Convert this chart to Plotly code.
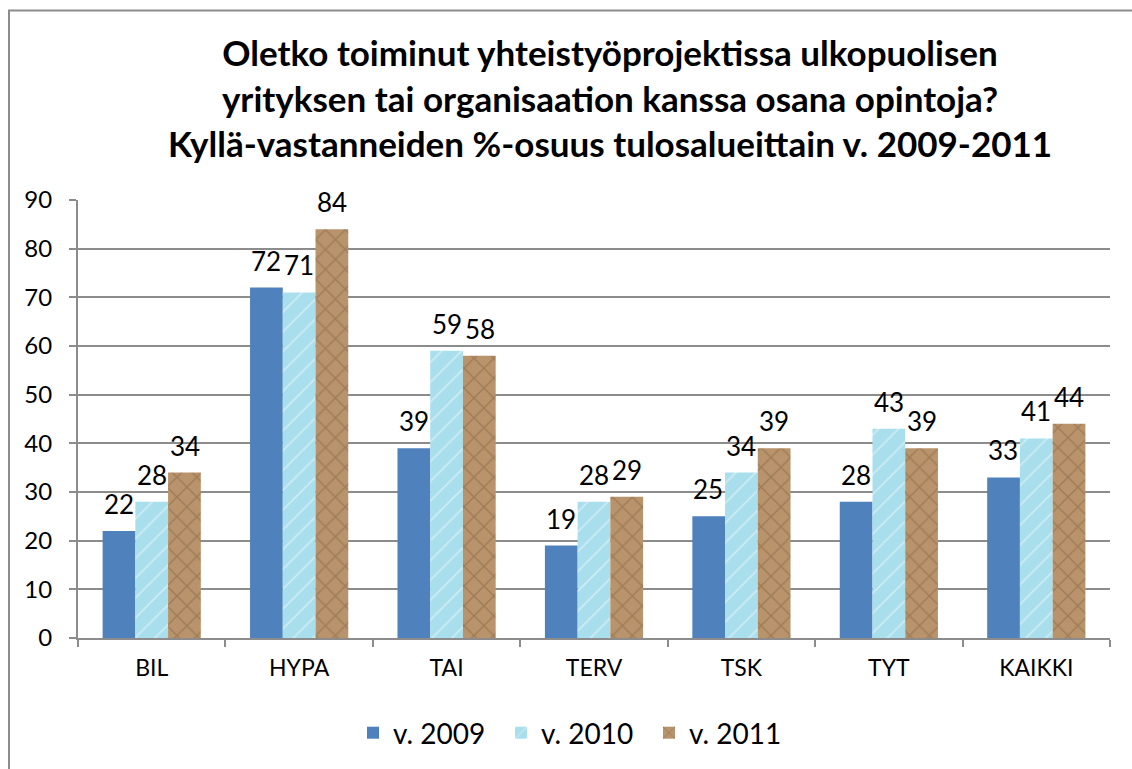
import plotly.graph_objects as go

categories = ["BIL", "HYPA", "TAI", "TERV", "TSK", "TYT", "KAIKKI"]
v2009 = [22, 72, 39, 19, 25, 28, 33]
v2010 = [28, 71, 59, 28, 34, 43, 41]
v2011 = [34, 84, 58, 29, 39, 39, 44]
series_names = ["v. 2009", "v. 2010", "v. 2011"]
y_ticks = [0, 10, 20, 30, 40, 50, 60, 70, 80, 90]

FONT = "Lato, 'Open Sans', sans-serif"

fig = go.Figure()
fig.add_trace(go.Bar(x=categories, y=v2009, name=series_names[0],
                     marker=dict(color="#4F81BD", line=dict(width=0))))
fig.add_trace(go.Bar(x=categories, y=v2010, name=series_names[1],
                     marker=dict(color="#A9DEEC", line=dict(width=0),
                                 pattern=dict(shape="/", fgcolor="#E4F6FA", fgopacity=0.6,
                                              size=14, solidity=0.12, fillmode="overlay"))))
fig.add_trace(go.Bar(x=categories, y=v2011, name=series_names[2],
                     marker=dict(color="#B8936B", line=dict(width=0),
                                 pattern=dict(shape="x", fgcolor="#7A5A3A", fgopacity=0.4,
                                              size=14, solidity=0.2, fillmode="overlay"))))

# data labels
offsets = [-33, 0, 33]
for si, vals in enumerate([v2009, v2010, v2011]):
    for c, v in zip(categories, vals):
        fig.add_annotation(x=c, y=v, xref="x", yref="y", text=str(v), showarrow=False,
                           xshift=offsets[si], yshift=9,
                           yanchor="bottom", font=dict(size=26, color="#000", family=FONT))

# outer chart border
fig.add_shape(type="rect", xref="paper", yref="paper",
              x0=(9 - 78) / 1032, x1=(1145 - 78) / 1032,
              y0=(639 - 790) / 439, y1=(639 - 10) / 439,
              line=dict(color="#8C8C8C", width=2), fillcolor="rgba(0,0,0,0)", layer="below")

fig.update_layout(
    width=1132, height=769,
    margin=dict(l=78, r=22, t=200, b=130),
    paper_bgcolor="white", plot_bgcolor="white",
    barmode="group", bargap=0.334, bargroupgap=0,
    font=dict(family=FONT, color="#000"),
    title=dict(text="<b>Oletko toiminut yhteistyöprojektissa ulkopuolisen<br>"
                    "yrityksen tai organisaation kanssa osana opintoja?<br>"
                    "Kyllä-vastanneiden %-osuus tulosalueittain v. 2009-2011</b>",
               x=610 / 1132, xanchor="center", y=1 - 66 / 769, yanchor="top",
               font=dict(size=35, family=FONT, color="#000")),
    showlegend=True,
    legend=dict(orientation="h", x=0.5 - 19 / 1032, xanchor="center", y=-(733 - 639) / 439,
                yanchor="middle", font=dict(size=28, family=FONT), itemwidth=30,
                entrywidth=103, entrywidthmode="pixels", traceorder="normal"),
)
fig.update_xaxes(showline=True, linecolor="#8C8C8C", linewidth=2,
                 ticks="outside", tickson="boundaries", ticklen=7, tickcolor="#8C8C8C", tickwidth=2,
                 tickfont=dict(size=23, family=FONT), showgrid=False, ticklabelstandoff=8)
fig.update_yaxes(range=[0, 90], tickvals=y_ticks, showline=True, linecolor="#8C8C8C", linewidth=2,
                 ticks="outside", ticklen=7, tickcolor="#8C8C8C", tickwidth=2,
                 showgrid=True, gridcolor="#8C8C8C", gridwidth=2, ticklabelstandoff=12,
                 tickfont=dict(size=24, family=FONT), zeroline=False)

fig.write_html("out.html", post_script="document.body.style.margin='0';",
               config={"displayModeBar": False})
